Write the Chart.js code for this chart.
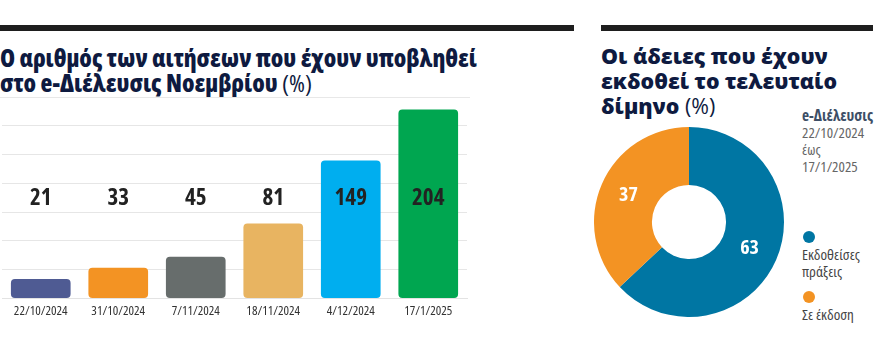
<!DOCTYPE html>
<html><head><meta charset="utf-8">
<script src="https://cdn.jsdelivr.net/npm/chart.js@4"></script>
<style>
html,body{margin:0;padding:0;background:#fff;}
body{width:880px;height:353px;position:relative;overflow:hidden;font-family:"Open Sans",sans-serif;}
.rule{position:absolute;top:25px;height:6px;background:#1e1e1e;}
.tl{position:absolute;color:#0e1a40;font-weight:800;font-family:"Open Sans",sans-serif;white-space:nowrap;line-height:25px;}
.tl .reg{font-weight:400;}
.sep{position:absolute;left:0;top:97px;width:470px;height:1px;background:#e8e8e8;}
#bar{position:absolute;left:0;top:100px;}
#pie{position:absolute;left:594px;top:127px;}
.note{position:absolute;left:802px;top:107px;font-family:"Open Sans",sans-serif;font-stretch:condensed;font-size:15px;line-height:17px;color:#666;white-space:nowrap;}
.note b{color:#3d4e66;font-weight:700;font-size:15.5px;}
.leg{position:absolute;left:802px;font-family:"Open Sans",sans-serif;font-stretch:condensed;font-size:15px;line-height:17px;color:#444;width:72px;}
.leg i{display:block;width:12px;height:12px;border-radius:50%;margin:0 0 3px 1px;}
</style></head>
<body>
<div class="rule" style="left:0;width:574px"></div>
<div class="rule" style="left:601px;width:272px"></div>
<div class="tl" data-w="477" style="left:0;top:45px;font-stretch:semi-condensed;">Ο αριθμός των αιτήσεων που έχουν υποβληθεί</div>
<div class="tl" style="left:0;top:70px;font-stretch:semi-condensed;" data-ref="0">στο e-Διέλευσις Νοεμβρίου <span class="reg">(%)</span></div>
<div class="sep"></div>
<div class="tl" data-w="227" style="left:601px;top:43px;">Οι άδειες που έχουν</div>
<div class="tl" style="left:601px;top:68px;" data-ref="2">εκδοθεί το τελευταίο</div>
<div class="tl" style="left:601px;top:93px;" data-ref="2">δίμηνο <span class="reg">(%)</span></div>
<div class="note"><b>e-Διέλευσις</b><br>22/10/2024<br>έως<br>17/1/2025</div>
<div id="legend"></div>
<canvas id="bar" width="470" height="225"></canvas>
<canvas id="pie" width="190" height="190"></canvas>
<script>
const dates = ["22/10/2024","31/10/2024","7/11/2024","18/11/2024","4/12/2024","17/1/2025"];
const requests = [21,33,45,81,149,204];
const barColors = ["#4f5b93","#f39323","#676d6c","#e8b461","#00aeef","#00a650"];

const permitLabels = ["Εκδοθείσες πράξεις","Σε έκδοση"];
const permitValues = [63,37];
const permitColors = ["#0076a3","#f39323"];

// fit title sizes to reference widths
const tls=[...document.querySelectorAll('.tl')];
tls.forEach(el=>{ if(el.dataset.w){ el.style.fontSize='22px'; const w=el.getBoundingClientRect().width; el.dataset.fs=(22*(+el.dataset.w)/w).toFixed(2); el.style.fontSize=el.dataset.fs+'px'; }});
tls.forEach(el=>{ if(el.dataset.ref!==undefined){ el.style.fontSize=tls[+el.dataset.ref].dataset.fs+'px'; }});

const valueLabels = {
  id:'valueLabels',
  afterDatasetsDraw(chart){
    const ctx = chart.ctx, meta = chart.getDatasetMeta(0);
    const yPos = chart.scales.y.getPixelForValue(108);
    ctx.save();
    ctx.font = 'bold 23px "Open Sans"';
    ctx.fontStretch = 'condensed';
    ctx.fillStyle = '#222';
    ctx.textAlign='center'; ctx.textBaseline='middle';
    meta.data.forEach((el,i)=>{ ctx.fillText(String(requests[i]), el.x, yPos); });
    ctx.restore();
  }
};
const condensedTicks = {
  id:'condensedTicks',
  beforeDraw(chart){ chart.ctx.fontStretch='condensed'; }
};

new Chart(document.getElementById('bar'),{
  type:'bar',
  data:{labels:dates,datasets:[{data:requests,backgroundColor:barColors,borderRadius:4,borderSkipped:false,barPercentage:0.77,categoryPercentage:1}]},
  options:{
    responsive:false,animation:false,
    layout:{padding:{left:2,right:3,top:4,bottom:1}},
    plugins:{legend:{display:false},tooltip:{enabled:false}},
    scales:{
      x:{grid:{display:false,drawTicks:false},border:{display:true,color:'#e3e3e3'},
         ticks:{padding:5,color:'#333',font:{family:'"Open Sans"',size:13,style:'condensed'}}},
      y:{min:0,max:210,grid:{drawTicks:false,color:(c)=> (c.tick && Math.abs(c.tick.value/31.1 - Math.round(c.tick.value/31.1))<0.01) ? '#e6e6e6':'rgba(0,0,0,0)'},
         border:{display:false},ticks:{display:false,stepSize:31.1}}
    }
  },
  plugins:[valueLabels,condensedTicks]
});

const arcLabels = {
  id:'arcLabels',
  afterDatasetsDraw(chart){
    const ctx = chart.ctx, meta = chart.getDatasetMeta(0);
    ctx.save();
    ctx.font='bold 20px "Open Sans"';
    ctx.fontStretch='condensed';
    ctx.fillStyle='#fff';ctx.textAlign='center';ctx.textBaseline='middle';
    meta.data.forEach((el,i)=>{const p=el.tooltipPosition();ctx.fillText(String(permitValues[i]),p.x,p.y);});
    ctx.restore();
  }
};

new Chart(document.getElementById('pie'),{
  type:'doughnut',
  data:{labels:permitLabels,datasets:[{data:permitValues,backgroundColor:permitColors,borderWidth:0}]},
  options:{responsive:false,animation:false,cutout:'39%',layout:{padding:0},
    plugins:{legend:{display:false},tooltip:{enabled:false}}},
  plugins:[arcLabels]
});

const legTops=[231,291];
const legend=document.getElementById('legend');
permitLabels.forEach((l,i)=>{
  const d=document.createElement('div');d.className='leg';d.style.top=legTops[i]+'px';
  d.innerHTML='<i style="background:'+permitColors[i]+'"></i>'+l;
  legend.appendChild(d);
});
</script>
</body></html>
